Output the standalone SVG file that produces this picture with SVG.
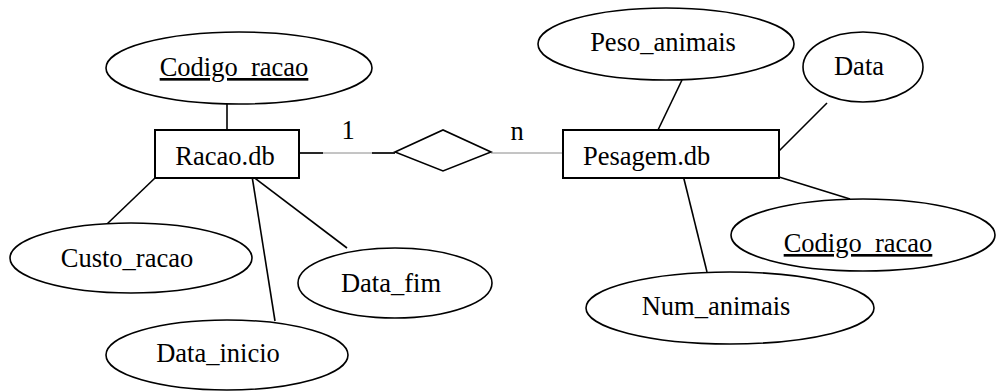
<svg xmlns="http://www.w3.org/2000/svg" width="997" height="391" viewBox="0 0 997 391">
<style>
.e{fill:#fff;stroke:#000;stroke-width:1.6}
.r{fill:#fff;stroke:#000;stroke-width:2}
text{font-family:'Liberation Serif','Times New Roman','DejaVu Serif',serif;font-size:26.5px;fill:#000}
.c{text-anchor:middle}
.u{text-decoration:underline}
.l{stroke:#000;stroke-width:1.6;fill:none}
.g{stroke:#8a8a8a;stroke-width:1;fill:none}
</style>
<rect width="997" height="391" fill="#fff"/>
<g id="connectors">
<line class="l" x1="227" y1="104" x2="227" y2="130"/>
<line class="l" x1="155" y1="178" x2="107" y2="224"/>
<line class="l" x1="252" y1="176" x2="275" y2="321"/>
<line class="l" x1="252" y1="176" x2="347" y2="248"/>
<line class="g" x1="299" y1="153" x2="395" y2="153"/>
<line class="l" x1="299" y1="153" x2="323" y2="153"/>
<line class="l" x1="372" y1="153" x2="395" y2="153"/>
<line class="g" x1="491" y1="153" x2="563" y2="153"/>
<line class="l" x1="682" y1="80" x2="658" y2="130"/>
<line class="l" x1="827" y1="103" x2="779" y2="151"/>
<line class="l" x1="779" y1="177" x2="850" y2="199"/>
<line class="l" x1="683" y1="175" x2="707" y2="272"/>
<text font-family="Liberation Serif, serif" x="348" y="139" text-anchor="middle">1</text>
<text font-family="Liberation Serif, serif" x="517" y="140" text-anchor="middle">n</text>
</g>
<g id="racao_codigo">
<ellipse class="e" cx="239" cy="68" rx="133" ry="36"/>
<text font-family="Liberation Serif, serif" class="c u" x="234" y="76">Codigo_racao</text>
</g>
<g id="racao">
<rect class="r" x="155" y="130" width="144" height="48"/>
<text font-family="Liberation Serif, serif" class="c" x="225" y="165">Racao.db</text>
</g>
<g id="custo_racao">
<ellipse class="e" cx="131" cy="258" rx="121" ry="35"/>
<text font-family="Liberation Serif, serif" class="c" x="127" y="267">Custo_racao</text>
</g>
<g id="data_inicio">
<ellipse class="e" cx="227" cy="355" rx="121" ry="35"/>
<text font-family="Liberation Serif, serif" class="c" x="218" y="362">Data_inicio</text>
</g>
<g id="data_fim">
<ellipse class="e" cx="395" cy="283" rx="97" ry="35"/>
<text font-family="Liberation Serif, serif" class="c" x="391" y="292">Data_fim</text>
</g>
<g id="relationship">
<polygon class="e" points="395,152 443,130 491,152 443,171"/>
</g>
<g id="pesagem">
<rect class="r" x="563" y="130" width="216" height="48"/>
<text font-family="Liberation Serif, serif" x="583" y="165">Pesagem.db</text>
</g>
<g id="peso_animais">
<ellipse class="e" cx="666" cy="44" rx="128" ry="36"/>
<text font-family="Liberation Serif, serif" class="c" x="663" y="51">Peso_animais</text>
</g>
<g id="data">
<ellipse class="e" cx="863" cy="67" rx="60" ry="35"/>
<text font-family="Liberation Serif, serif" class="c" x="859" y="75">Data</text>
</g>
<g id="pesagem_codigo">
<ellipse class="e" cx="863" cy="235" rx="132" ry="36"/>
<text font-family="Liberation Serif, serif" class="c u" x="858" y="252">Codigo_racao</text>
</g>
<g id="num_animais">
<ellipse class="e" cx="730" cy="308" rx="144" ry="36"/>
<text font-family="Liberation Serif, serif" class="c" x="716" y="315">Num_animais</text>
</g>
</svg>
